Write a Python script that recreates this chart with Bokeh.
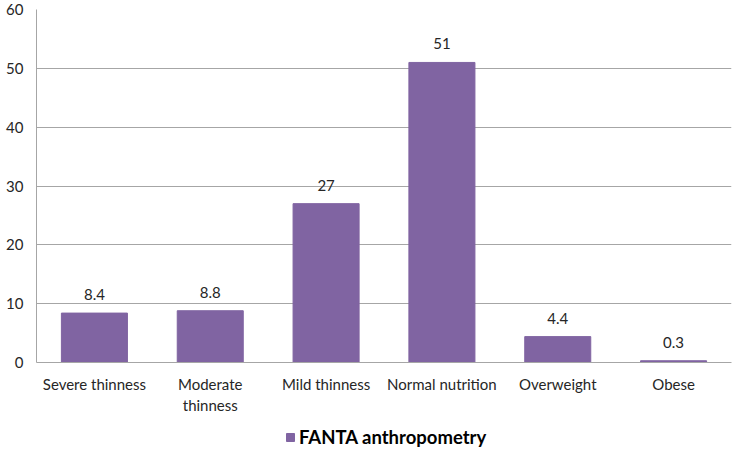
from bokeh.plotting import figure
from bokeh.layouts import column
from bokeh.models import ColumnDataSource, Legend, LegendItem, Range1d, LabelSet
from bokeh.core.properties import value
from bokeh.embed import file_html
from bokeh.resources import INLINE

categories = ["Severe thinness", "Moderate\nthinness", "Mild thinness",
              "Normal nutrition", "Overweight", "Obese"]
values = [8.4, 8.8, 27, 51, 4.4, 0.3]
value_labels = ["8.4", "8.8", "27", "51", "4.4", "0.3"]
series_name = "FANTA anthropometry"
bar_color = "#8064A2"

src = ColumnDataSource(dict(cat=categories, val=values, lab=value_labels))

p = figure(x_range=categories, y_range=Range1d(0, 60), width=734, height=424,
           output_backend="svg", toolbar_location=None,
           min_border_left=36, min_border_right=3, min_border_top=9, min_border_bottom=62)
p.outline_line_color = None
p.background_fill_color = "white"
p.border_fill_color = "white"

r = p.vbar(x="cat", top="val", width=0.57, source=src, color=bar_color)

labels = LabelSet(x="cat", y="val", text="lab", source=src, text_align="center",
                  text_baseline="bottom", y_offset=13, text_font=value("Lato"),
                  text_font_size="15px", text_color="#262626")
p.add_layout(labels)

p.yaxis.ticker = [0, 10, 20, 30, 40, 50, 60]
p.xgrid.grid_line_color = None
p.ygrid.grid_line_color = "#A6A6A6"
p.ygrid.grid_line_width = 1
for ax in (p.xaxis[0], p.yaxis[0]):
    ax.axis_line_color = "#A6A6A6"
    ax.major_tick_line_color = None
    ax.minor_tick_line_color = None
    ax.major_label_text_font = "Lato"
    ax.major_label_text_font_size = "15px"
    ax.major_label_text_color = "#262626"
p.yaxis.major_label_standoff = 7
p.xaxis.major_label_standoff = 6

# legend strip below the chart (same series, drawn out of view; only its legend shows)
pl = figure(width=734, height=26, x_range=categories, y_range=Range1d(100, 101),
            output_backend="svg", toolbar_location=None,
            min_border_left=0, min_border_right=0, min_border_top=0, min_border_bottom=0)
pl.axis.visible = False
pl.grid.visible = False
pl.outline_line_color = None
rl = pl.vbar(x="cat", top="val", width=0.57, source=src, color=bar_color)
legend = Legend(items=[LegendItem(label=series_name, renderers=[rl])],
                location=(249, 2), orientation="horizontal",
                label_text_font="Lato", label_text_font_style="bold",
                label_text_font_size="18.5px", label_text_color="#000000",
                glyph_width=10, glyph_height=10, border_line_color=None,
                background_fill_alpha=0, margin=0, label_standoff=4,
                padding=0)
pl.add_layout(legend)

layout = column(p, pl, spacing=0)
open("out.html", "w").write(file_html(layout, INLINE))
